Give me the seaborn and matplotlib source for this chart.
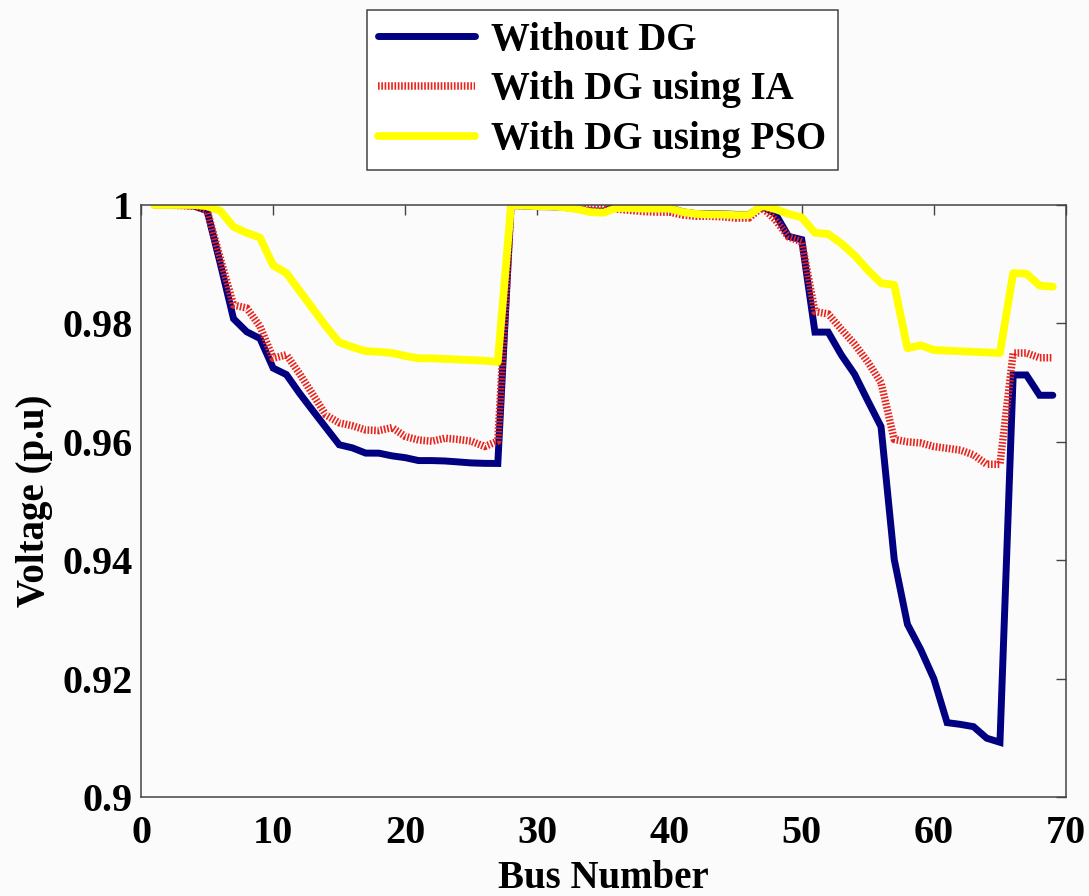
import numpy as np
import pandas as pd
import matplotlib
matplotlib.use("Agg")
import matplotlib.pyplot as plt
import seaborn as sns

bus = list(range(1, 70))

without_dg = [
    1.0000, 1.0000, 0.99993, 0.99984, 0.99902, 0.99009, 0.98079, 0.97858, 0.97745, 0.97245,
    0.97135, 0.96819, 0.96526, 0.96237, 0.95950, 0.95897, 0.95809, 0.95808, 0.95762, 0.95732,
    0.95683, 0.95683, 0.95676, 0.95660, 0.95643, 0.95636, 0.95634, 0.99993, 0.99985, 0.99973,
    0.99971, 0.99961, 0.99935, 0.99901, 0.99895, 0.99992, 0.99975, 0.99959, 0.99954, 0.99954,
    0.99884, 0.99855, 0.99851, 0.99850, 0.99841, 0.99840, 0.99979, 0.99854, 0.99470, 0.99415,
    0.97853, 0.97853, 0.97466, 0.97141, 0.96693, 0.96256, 0.94011, 0.92917, 0.92492, 0.91995,
    0.91256, 0.91227, 0.91188, 0.90993, 0.90924, 0.97129, 0.97129, 0.96786, 0.96786,
]

with_ia = [
    1.0000, 1.0000, 0.9999, 0.9998, 0.9991, 0.9910, 0.9831, 0.9826, 0.9795, 0.9741,
    0.9747, 0.9715, 0.9680, 0.9645, 0.9632, 0.9627, 0.9620, 0.9619, 0.9624, 0.9609,
    0.9603, 0.9601, 0.9606, 0.9604, 0.9601, 0.9592, 0.9601, 0.9999, 0.9999, 0.9998,
    0.9998, 0.9998, 0.9997, 0.9996, 0.9996, 0.9993, 0.9991, 0.9989, 0.9988, 0.9988,
    0.9983, 0.9981, 0.9981, 0.9980, 0.9978, 0.9978, 0.9996, 0.9975, 0.9946, 0.9938,
    0.9820, 0.9816, 0.9790, 0.9765, 0.9735, 0.9700, 0.9604, 0.9600, 0.9598, 0.9592,
    0.9589, 0.9586, 0.9578, 0.9562, 0.9562, 0.9750, 0.9750, 0.9742, 0.9742,
]

with_pso = [
    1.0000, 1.0000, 1.0000, 1.0000, 0.9998, 0.9990, 0.9963, 0.9953, 0.9945, 0.9898,
    0.9885, 0.9855, 0.9825, 0.9795, 0.9768, 0.9760, 0.9753, 0.9752, 0.9750, 0.9745,
    0.9741, 0.9741, 0.9740, 0.9739, 0.9738, 0.9737, 0.9735, 0.99995, 0.9999, 0.9998,
    0.9998, 0.9996, 0.9993, 0.9988, 0.9987, 0.9995, 0.9995, 0.9994, 0.9994, 0.9994,
    0.9988, 0.9985, 0.9984, 0.9984, 0.9983, 0.9983, 0.9999, 0.9993, 0.9985, 0.9979,
    0.9953, 0.9951, 0.9935, 0.9915, 0.9890, 0.9868, 0.9865, 0.9758, 0.9763, 0.9755,
    0.9754, 0.9753, 0.9752, 0.9751, 0.9750, 0.9885, 0.9884, 0.9864, 0.9862,
]

labels = ["Without DG", "With DG using IA", "With DG using PSO"]
x_ticks = [0, 10, 20, 30, 40, 50, 60, 70]
y_ticks = [0.9, 0.92, 0.94, 0.96, 0.98, 1.0]
y_tick_labels = ["0.9", "0.92", "0.94", "0.96", "0.98", "1"]

sns.set_theme(style="white")
plt.rcParams["font.family"] = ["Liberation Serif", "DejaVu Serif"]
plt.rcParams["font.weight"] = "bold"
plt.rcParams["text.color"] = "black"
plt.rcParams["axes.labelcolor"] = "black"
plt.rcParams["xtick.color"] = "black"
plt.rcParams["ytick.color"] = "black"

fig = plt.figure(figsize=(10.89, 8.96), dpi=100, facecolor="#fbfbfb")
ax = fig.add_axes([0.1295, 0.1105, 0.8494, 0.6607])
ax.set_facecolor("#fbfbfb")

sns.lineplot(x=bus, y=without_dg, ax=ax, color="#000080", linewidth=5.0,
             label=labels[0], solid_joinstyle="miter")
sns.lineplot(x=bus, y=with_ia, ax=ax, color="#e8231c", linewidth=5.4,
             linestyle=(0, (0.22, 0.22)), dash_capstyle="butt", label=labels[1])
sns.lineplot(x=bus, y=with_pso, ax=ax, color="#ffff00", linewidth=5.6,
             label=labels[2])

ax.set_xlim(0, 70)
ax.set_ylim(0.9, 1.0)
ax.set_xticks(x_ticks)
ax.set_xticklabels([str(t) for t in x_ticks])
ax.set_yticks(y_ticks)
ax.set_yticklabels(y_tick_labels)

for s in ax.spines.values():
    s.set_visible(True)
    s.set_color("#444444")
    s.set_linewidth(1.1)

ax.tick_params(axis="both", which="major", direction="in", length=7, width=1,
               color="#444444", labelcolor="black", top=True, right=True, labelsize=29)
ax.tick_params(axis="x", pad=13)
ax.tick_params(axis="y", pad=6)
for lab in ax.get_xticklabels() + ax.get_yticklabels():
    lab.set_fontweight("bold")

ax.set_xlabel("Bus Number", fontsize=28, fontweight="bold", labelpad=6, color="black")
ax.set_ylabel("Voltage (p.u)", fontsize=28, fontweight="bold", labelpad=7, color="black")

handles, lbls = ax.get_legend_handles_labels()
ax.get_legend().remove()
leg = fig.legend(handles, lbls, loc="upper center", bbox_to_anchor=(0.553, 0.989),
                 borderaxespad=0.0,
                 fancybox=False, frameon=True, edgecolor="#444444", facecolor="white",
                 framealpha=1, handlelength=2.5, handletextpad=0.4, labelspacing=0.33,
                 borderpad=0.3, prop={"size": 28, "weight": "bold"})
leg.get_frame().set_linewidth(1.1)
for t in leg.get_texts():
    t.set_color("black")

fig.savefig("out.png", dpi=100, facecolor=fig.get_facecolor())
